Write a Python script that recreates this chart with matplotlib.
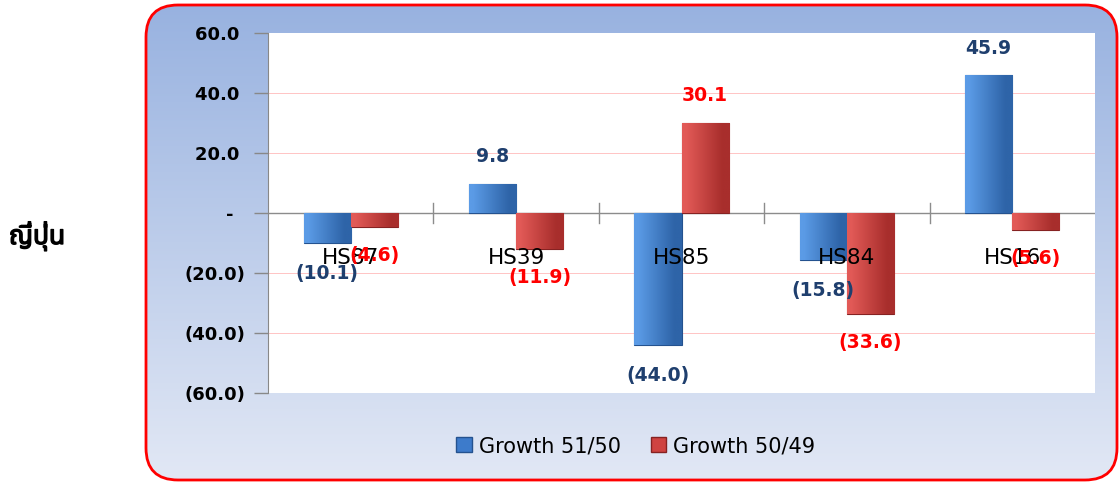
import numpy as np
import matplotlib
matplotlib.use("Agg")
import matplotlib.pyplot as plt
import matplotlib.patheffects as pe
from matplotlib.patches import FancyBboxPatch, Patch
from matplotlib.colors import to_rgb
from matplotlib import font_manager
from matplotlib.ft2font import FT2Font

# ---------------- data ----------------
categories = ["HS87", "HS39", "HS85", "HS84", "HS16"]
growth_51_50 = [-10.1, 9.8, -44.0, -15.8, 45.9]
growth_50_49 = [-4.6, -11.9, 30.1, -33.6, -5.6]
series_names = ["Growth 51/50", "Growth 50/49"]
y_ticks = [-60, -40, -20, 0, 20, 40, 60]
y_tick_labels = ["(60.0)", "(40.0)", "(20.0)", "-  ", "20.0 ", "40.0 ", "60.0 "]
side_label = "ญี่ปุ่น"

# ---------------- fonts ----------------
thai_fams = []
for f in font_manager.fontManager.ttflist:
    try:
        ft = FT2Font(f.fname)
        if ft.get_char_index(0x0E0D) and ft.get_char_index(0x0E38) and ft.get_char_index(0x0E48):
            if f.name not in thai_fams:
                thai_fams.append(f.name)
    except Exception:
        pass
pref = ["Noto Sans Thai", "Loma", "Garuda", "Tlwg Typo", "Waree", "Umpush", "Sawasdee",
        "Laksaman", "Kinnari", "Norasi"]
thai_family = None
for p in pref:
    if p in thai_fams:
        thai_family = p
        break
if thai_family is None and thai_fams:
    thai_family = thai_fams[0]
plt.rcParams['font.family'] = ['DejaVu Sans']

W, H = 1120, 484
fig = plt.figure(figsize=(W / 100, H / 100), dpi=100)
fig.patch.set_facecolor("white")

# ---------------- background rounded box ----------------
bg = fig.add_axes([0, 0, 1, 1], zorder=-5)
bg.set_xlim(0, W)
bg.set_ylim(H, 0)
bg.axis("off")
top = np.array([152, 178, 224]) / 255
bot = np.array([226, 232, 245]) / 255
t = np.linspace(0, 1, 256)[:, None]
grad = (top[None, :] * (1 - t) + bot[None, :] * t)[:, None, :]
bx0, by0, bw, bh = 146, 5, 971, 475
box = FancyBboxPatch((bx0, by0), bw, bh, boxstyle="round,pad=0,rounding_size=32",
                     facecolor="none", edgecolor="#FF0000", linewidth=2, zorder=3)
im = bg.imshow(grad, extent=[bx0, bx0 + bw, by0 + bh, by0], aspect="auto", zorder=1)
clip = FancyBboxPatch((bx0, by0), bw, bh, boxstyle="round,pad=0,rounding_size=32",
                      transform=bg.transData, facecolor="none", edgecolor="none")
bg.add_patch(clip)
im.set_clip_path(clip)
bg.add_patch(box)

# ---------------- main axes ----------------
ax = fig.add_axes([268 / W, 1 - 393 / H, 827 / W, 360 / H])
ax.set_facecolor("white")
n = len(categories)
x = np.arange(n) + 0.5
w = 0.285
blue_l, blue_d, blue_edge = "#5B9BE6", "#2E64A8", "#24528F"
red_l, red_d, red_edge = "#E25A57", "#A82E2C", "#862222"

ax.set_xlim(0, n)
ax.set_ylim(y_ticks[0], y_ticks[-1])
ax.set_yticks(y_ticks)
ax.set_yticklabels(y_tick_labels, fontsize=13, fontweight="bold")
ax.tick_params(axis="y", length=10, width=1, color="#888888", pad=6, direction="out")
ax.set_xticks([])
for s in ["top", "right", "bottom"]:
    ax.spines[s].set_visible(False)
ax.spines["left"].set_color("#888888")
for yv in y_ticks[1:-1]:
    if yv != 0:
        ax.axhline(yv, color="#FFC4C4", lw=0.7, zorder=0)
ax.axhline(0, color="#8C8C8C", lw=1, zorder=1)
for b in range(1, n):
    ax.plot([b, b], [-3.3, 3.3], color="#8C8C8C", lw=1, zorder=1, clip_on=False)

bars1 = ax.bar(x - w / 2, growth_51_50, w, color=blue_d, edgecolor=blue_edge, linewidth=0.8, zorder=3)
bars2 = ax.bar(x + w / 2, growth_50_49, w, color=red_d, edgecolor=red_edge, linewidth=0.8, zorder=3)


def shade(bars, c_light, c_dark):
    cl, cd = np.array(to_rgb(c_light)), np.array(to_rgb(c_dark))
    s = np.linspace(0, 1, 64)
    s = np.clip(s * 1.3 - 0.1, 0, 1)
    row = cl[None, :] * (1 - s[:, None]) + cd[None, :] * s[:, None]
    img = row[None, :, :]
    for p in bars:
        x0, y0 = p.get_x(), p.get_y()
        ww, hh = p.get_width(), p.get_height()
        gi = ax.imshow(img, extent=[x0, x0 + ww, min(y0, y0 + hh), max(y0, y0 + hh)],
                       aspect="auto", zorder=3.5, interpolation="bilinear")
        gi.set_clip_path(p)


shade(bars1, blue_l, blue_d)
shade(bars2, red_l, red_d)
ax.set_xlim(0, n)
ax.set_ylim(y_ticks[0], y_ticks[-1])


def fmt(v):
    return f"({abs(v):.1f})" if v < 0 else f"{v:.1f}"


for xi, v in zip(x - w / 2, growth_51_50):
    ax.annotate(fmt(v), (xi, v), xytext=(0, 27 if v > 0 else -30), textcoords="offset pixels",
                ha="center", va="center", fontsize=13.5, fontweight="bold", color="#1F3F6E", zorder=5)
for xi, v in zip(x + w / 2, growth_50_49):
    ax.annotate(fmt(v), (xi, v), xytext=(0, 27 if v > 0 else -29), textcoords="offset pixels",
                ha="center", va="center", fontsize=13.5, fontweight="bold", color="#FF0000", zorder=6)
for xi, c in zip(x, categories):
    ax.text(xi, -15, c, ha="center", va="center", fontsize=15.5, color="black", zorder=5)

# ---------------- legend ----------------
handles = [Patch(facecolor="#3D7BCB", edgecolor=blue_edge), Patch(facecolor="#CF4341", edgecolor=red_edge)]
fig.legend(handles, series_names, loc="center", bbox_to_anchor=(636 / W, 1 - 446 / H), ncol=2,
           frameon=False, fontsize=15, handlelength=0.75, handleheight=0.75, handletextpad=0.35,
           columnspacing=1.4)

# ---------------- side label ----------------
fam = [thai_family, "DejaVu Sans"] if thai_family else ["DejaVu Sans"]
fig.text(37 / W, 1 - 236 / H, side_label, ha="center", va="center", fontsize=19,
         fontweight="bold", family=fam,
         path_effects=[pe.withStroke(linewidth=1.0, foreground="black")])

fig.savefig("out.png", dpi=100)
